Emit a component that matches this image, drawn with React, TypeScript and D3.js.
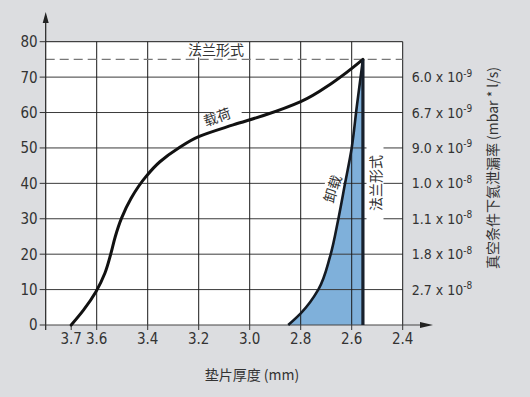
import React from 'react';
import * as d3 from 'd3';

// ---- data ----
const xTicks = [3.7, 3.6, 3.4, 3.2, 3.0, 2.8, 2.6, 2.4];
const xGrid = [3.6, 3.4, 3.2, 3.0, 2.8, 2.6];
const yTicks = [0, 10, 20, 30, 40, 50, 60, 70, 80];
const yGrid = [10, 20, 30, 40, 50, 60, 70];
const rightLevels = [70, 60, 50, 40, 30, 20, 10];
const rightMantissa = ['6.0', '6.7', '9.0', '1.0', '1.1', '1.8', '2.7'];
const rightExponent = ['-9', '-9', '-9', '-8', '-8', '-8', '-8'];

// 载荷 (loading) curve
const loadX = [3.7, 3.652, 3.603, 3.568, 3.545, 3.527, 3.503, 3.465, 3.407, 3.352, 3.28, 3.2, 3.065, 2.94, 2.8, 2.678, 2.556];
const loadY = [0, 4.2, 9.4, 14.6, 20, 25, 30.1, 35.8, 41.9, 46.1, 49.9, 53.2, 56.5, 59.3, 63.1, 68.3, 75];

// 卸载 (unloading) curve
const unloadX = [2.849, 2.8, 2.731, 2.685, 2.652, 2.626, 2.6, 2.58, 2.556];
const unloadY = [0, 3.3, 10, 19.3, 30.1, 40, 50, 61.7, 75];

const flangeLevel = 75;
const flangeThickness = 2.556;

const W = 530;
const H = 397;
const numFont = "'Liberation Sans Narrow', 'DejaVu Sans Condensed', sans-serif";
const cjkFont = "'Noto Sans CJK SC', 'Noto Sans', sans-serif";
const textColor = '#333';

export default function App() {
  const x = d3.scaleLinear().domain([3.8, 2.4]).range([45.7, 402.7]);
  const y = d3.scaleLinear().domain([0, 80]).range([325, 41.7]);

  const line = d3
    .line<[number, number]>()
    .x((d) => x(d[0]))
    .y((d) => y(d[1]))
    .curve(d3.curveMonotoneY);

  // ordered top-to-bottom in pixels for the monotone-Y curve
  const loadPts: [number, number][] = loadX.map((v, i) => [v, loadY[i]] as [number, number]).reverse();
  const unloadPts: [number, number][] = unloadX.map((v, i) => [v, unloadY[i]] as [number, number]).reverse();

  const area = d3
    .area<[number, number]>()
    .x0((d) => x(d[0]))
    .x1(() => x(flangeThickness))
    .y((d) => y(d[1]))
    .curve(d3.curveMonotoneY);

  const [x0, x1] = x.range();
  const [y0, y1] = y.range();

  const labelBox = (cx: number, cy: number, w: number, h: number, rot: number, key: string) => (
    <rect key={key} x={-w / 2} y={-h / 2} width={w} height={h} fill="#fff"
      transform={`translate(${cx},${cy}) rotate(${rot})`} />
  );

  return (
    <svg width={W} height={H} style={{ position: 'absolute', left: 0, top: 0 }}>
      <rect x={0} y={0} width={W} height={H} fill="#dcdde0" />
      <rect x={x0} y={y1} width={x1 - x0} height={y0 - y1} fill="#fff" />

      {/* unloading fill */}
      <path d={area(unloadPts) || ''} fill="#7fb0da" />

      {/* grid */}
      {yGrid.map((v) => (
        <line key={'hg' + v} x1={x0} x2={x1} y1={y(v)} y2={y(v)} stroke="#3a3a3a" strokeWidth={1} />
      ))}
      {xGrid.map((v) => (
        <line key={'vg' + v} x1={x(v)} x2={x(v)} y1={y1} y2={y0} stroke="#1a1a1a" strokeWidth={1} />
      ))}
      <line x1={x0} x2={x1} y1={y1} y2={y1} stroke="#1a1a1a" strokeWidth={1} />
      <line x1={x1} x2={x1} y1={y1} y2={y0} stroke="#1a1a1a" strokeWidth={1} />

      {/* dashed flange line */}
      <line x1={x0} x2={x1} y1={y(flangeLevel)} y2={y(flangeLevel)} stroke="#777" strokeWidth={1.3} strokeDasharray="9,5" />

      {/* label backgrounds */}
      {labelBox(216, y(flangeLevel) - 9, 62, 14, 0, 'b1')}
      {labelBox(222, 117, 40, 14, -20, 'b2')}
      {labelBox(332, 189, 34, 17, -72, 'b3')}
      {labelBox(375, 183, 76, 17, -90, 'b4')}

      {/* axes */}
      <line x1={x0} x2={x0} y1={y0 + 5} y2={16} stroke="#222" strokeWidth={1.2} />
      <polygon points={`${x0},12 ${x0 - 3},23 ${x0 + 3},23`} fill="#222" />
      <line x1={x0} x2={428} y1={y0} y2={y0} stroke="#444" strokeWidth={1.2} />
      <polygon points={`433,${y0} 420,${y0 - 3} 420,${y0 + 3}`} fill="#222" />

      {yTicks.map((v) => (
        <g key={'yt' + v}>
          <line x1={x0 - 6} x2={x0} y1={y(v)} y2={y(v)} stroke="#333" strokeWidth={1} />
          <text x={x0 - 8} y={y(v)} dy="0.36em" textAnchor="end" fontFamily={numFont} fontSize={15} fill={textColor}>{v}</text>
        </g>
      ))}
      {xTicks.map((v) => (
        <g key={'xt' + v}>
          <line x1={x(v)} x2={x(v)} y1={y0} y2={y0 + 5} stroke="#333" strokeWidth={1} />
          <text x={x(v)} y={y0 + 19} textAnchor="middle" fontFamily={numFont} fontSize={15} fill={textColor}>{v.toFixed(1)}</text>
        </g>
      ))}

      {/* right-side leak rate labels */}
      {rightLevels.map((v, i) => (
        <text key={'rl' + v} x={x1 + 9} y={y(v)} dy="0.36em" fontFamily={numFont} fontSize={14} fill={textColor}>
          {rightMantissa[i]} x 10
          <tspan fontSize={10} dy="-0.55em">{rightExponent[i]}</tspan>
        </text>
      ))}

      {/* curves */}
      <path d={line(unloadPts) || ''} fill="none" stroke="#141a22" strokeWidth={2.6} />
      <path d={line(loadPts) || ''} fill="none" stroke="#111" strokeWidth={3} strokeLinecap="round" />
      <line x1={x(flangeThickness)} x2={x(flangeThickness)} y1={y(flangeLevel)} y2={y0} stroke="#18202c" strokeWidth={3.2} />

      {/* labels */}
      <text x={216} y={y(flangeLevel) - 4} textAnchor="middle" fontFamily={cjkFont} fontSize={14} fill={textColor}>法兰形式</text>
      <text transform="translate(219,122) rotate(-20)" textAnchor="middle" fontFamily={cjkFont} fontSize={14} fill={textColor}>载荷</text>
      <text transform="translate(333,189) rotate(-72)" textAnchor="middle" dy="0.35em" fontFamily={cjkFont} fontSize={14} fill={textColor}>卸载</text>
      <text transform="translate(376,183) rotate(-90)" textAnchor="middle" dy="0.35em" fontFamily={cjkFont} fontSize={14} fill={textColor}>法兰形式</text>

      {/* axis titles */}
      <text x={252} y={380} textAnchor="middle" fontFamily={cjkFont} fontSize={14} fill={textColor}>垫片厚度 (mm)</text>
      <text transform="translate(493,168) rotate(-90)" textAnchor="middle" dy="0.35em" fontFamily={cjkFont} fontSize={14} fill={textColor}>真空条件下氦泄漏率 (mbar * l/s)</text>
    </svg>
  );
}
